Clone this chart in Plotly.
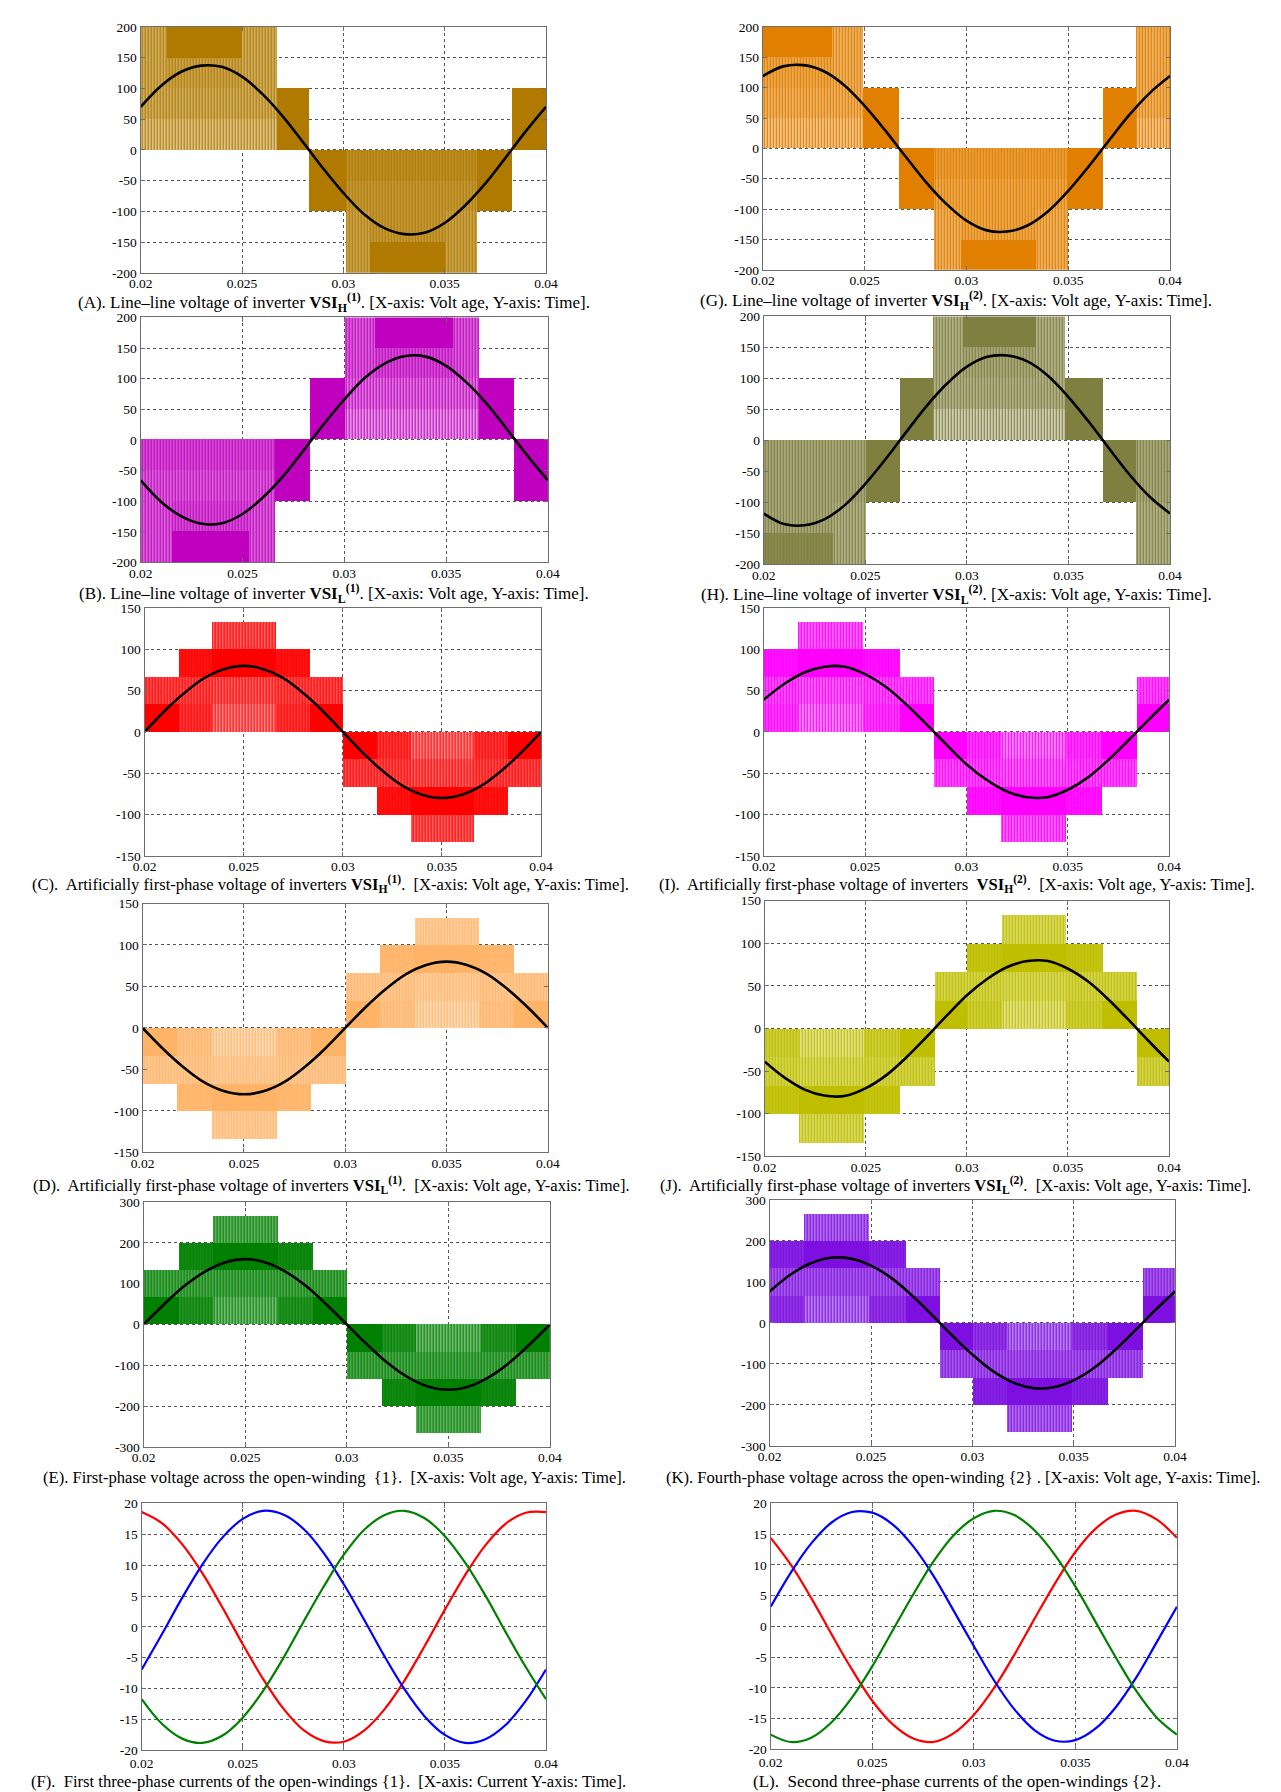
import plotly.graph_objects as go

# ---------------- data ----------------
T = [0.020, 0.021, 0.022, 0.023, 0.024, 0.025, 0.026, 0.027, 0.028, 0.029, 0.030,
     0.031, 0.032, 0.033, 0.034, 0.035, 0.036, 0.037, 0.038, 0.039, 0.040]

X_TICKS = [0.02, 0.025, 0.03, 0.035, 0.04]
X_TICK_TEXT = ["0.02", "0.025", "0.03", "0.035", "0.04"]
Y_TICKS_200 = [-200, -150, -100, -50, 0, 50, 100, 150, 200]
Y_TICKS_150 = [-150, -100, -50, 0, 50, 100, 150]
Y_TICKS_300 = [-300, -200, -100, 0, 100, 200, 300]
Y_TICKS_20 = [-20, -15, -10, -5, 0, 5, 10, 15, 20]

# fundamental (black) curves
A_FUND = [70, 104, 127, 137, 135, 119, 91, 55, 13, -30, -70, -104, -127, -137, -135, -119, -91, -55, -13, 30, 70]
B_FUND = [-66, -101, -125, -137, -136, -121, -94, -59, -17, 26, 66, 101, 125, 137, 136, 121, 94, 59, 17, -26, -66]
C_FUND = [0, 25, 47, 65, 76, 80, 76, 65, 47, 25, 0, -25, -47, -65, -76, -80, -76, -65, -47, -25, 0]
D_FUND = [0, -25, -47, -65, -76, -80, -76, -65, -47, -25, 0, 25, 47, 65, 76, 80, 76, 65, 47, 25, 0]
E_FUND = [0, 49, 94, 129, 152, 160, 152, 129, 94, 49, 0, -49, -94, -129, -152, -160, -152, -129, -94, -49, 0]
G_FUND = [119, 135, 137, 127, 104, 70, 30, -13, -55, -91, -119, -135, -137, -127, -104, -70, -30, 13, 55, 91, 119]
H_FUND = [-118, -135, -137, -127, -104, -70, -30, 13, 55, 91, 119, 135, 137, 127, 104, 70, 30, -13, -55, -91, -118]
I_FUND = [39, 58, 72, 79, 79, 70, 55, 34, 10, -15, -39, -58, -72, -79, -79, -70, -55, -34, -10, 15, 39]
J_FUND = [-39, -58, -72, -79, -79, -70, -55, -34, -10, 15, 39, 58, 72, 79, 79, 70, 55, 34, 10, -15, -39]
K_FUND = [77, 117, 145, 159, 157, 140, 110, 68, 20, -30, -77, -117, -145, -159, -157, -140, -110, -68, -20, 30, 77]

# three-phase currents
F_RED = [18.6, 16.8, 13.4, 8.7, 3.1, -2.8, -8.4, -13.2, -16.7, -18.5, -18.6, -16.8, -13.4, -8.7, -3.1, 2.8, 8.4, 13.2, 16.7, 18.5, 18.6]
F_BLUE = [-6.9, -1.2, 4.7, 10.1, 14.5, 17.5, 18.8, 18.2, 15.9, 12.0, 6.9, 1.2, -4.7, -10.1, -14.5, -17.5, -18.8, -18.2, -15.9, -12.0, -6.9]
F_GREEN = [-11.7, -15.7, -18.1, -18.8, -17.6, -14.7, -10.4, -5.1, 0.8, 6.5, 11.7, 15.7, 18.1, 18.8, 17.6, 14.7, 10.4, 5.1, -0.8, -6.5, -11.7]
L_RED = [14.4, 10.0, 4.6, -1.3, -7.0, -12.1, -15.9, -18.2, -18.8, -17.4, -14.4, -10.0, -4.6, 1.3, 7.0, 12.1, 15.9, 18.2, 18.8, 17.4, 14.4]
L_BLUE = [3.2, 8.8, 13.5, 16.9, 18.6, 18.5, 16.6, 13.1, 8.3, 2.6, -3.2, -8.8, -13.5, -16.9, -18.6, -18.5, -16.6, -13.1, -8.3, -2.6, 3.2]
L_GREEN = [-17.6, -18.8, -18.1, -15.6, -11.6, -6.5, -0.7, 5.1, 10.5, 14.8, 17.6, 18.8, 18.1, 15.6, 11.6, 6.5, 0.7, -5.1, -10.5, -14.8, -17.6]

# PWM level bands: (t_start, t_end, low, high, fill fraction; 1 = solid)
A_BANDS = [
    (0.0200, 0.0213, 100, 200, 0.75), (0.0213, 0.0250, 150, 200, 1.0), (0.0213, 0.0250, 100, 150, 0.8),
    (0.0250, 0.0267, 100, 200, 0.75), (0.0200, 0.0267, 50, 100, 0.75), (0.0200, 0.0267, 0, 50, 0.65),
    (0.0267, 0.0283, 0, 100, 1.0), (0.0283, 0.0301, -100, 0, 1.0),
    (0.0301, 0.0313, -200, -100, 0.8), (0.0313, 0.0350, -200, -150, 1.0), (0.0313, 0.0350, -150, -100, 0.85),
    (0.0350, 0.0366, -200, -100, 0.8), (0.0301, 0.0366, -100, -50, 0.85), (0.0301, 0.0366, -50, 0, 0.9),
    (0.0366, 0.0383, -100, 0, 1.0), (0.0383, 0.0400, 0, 100, 1.0),
]
B_BANDS = [
    (0.0200, 0.0215, -200, -100, 0.75), (0.0215, 0.0253, -200, -150, 1.0), (0.0215, 0.0253, -150, -100, 0.8),
    (0.0253, 0.0266, -200, -100, 0.75), (0.0200, 0.0266, -100, -50, 0.75), (0.0200, 0.0266, -50, 0, 0.8),
    (0.0266, 0.0283, -100, 0, 1.0), (0.0283, 0.0300, 0, 100, 1.0),
    (0.0300, 0.0315, 100, 200, 0.75), (0.0315, 0.0353, 150, 200, 1.0), (0.0315, 0.0353, 100, 150, 0.8),
    (0.0353, 0.0366, 100, 200, 0.75), (0.0300, 0.0366, 50, 100, 0.7), (0.0300, 0.0366, 0, 50, 0.6),
    (0.0366, 0.0383, 0, 100, 1.0), (0.0383, 0.0400, -100, 0, 1.0),
]
G_BANDS = [
    (0.0200, 0.0234, 150, 200, 1.0), (0.0200, 0.0234, 100, 150, 0.8), (0.0234, 0.0249, 100, 200, 0.75),
    (0.0200, 0.0249, 50, 100, 0.75), (0.0200, 0.0249, 0, 50, 0.65), (0.0249, 0.0267, 0, 100, 1.0),
    (0.0267, 0.0284, -100, 0, 1.0), (0.0284, 0.0297, -200, -100, 0.75),
    (0.0297, 0.0334, -200, -150, 1.0), (0.0297, 0.0334, -150, -100, 0.8), (0.0334, 0.0350, -200, -100, 0.75),
    (0.0284, 0.0350, -100, -50, 0.8), (0.0284, 0.0350, -50, 0, 0.85), (0.0350, 0.0367, -100, 0, 1.0),
    (0.0367, 0.0383, 0, 100, 1.0), (0.0383, 0.0400, 100, 200, 0.75), (0.0383, 0.0400, 50, 100, 0.75),
    (0.0383, 0.0400, 0, 50, 0.65),
]
H_BANDS = [
    (0.0200, 0.0234, -200, -150, 0.95), (0.0200, 0.0234, -150, -100, 0.8), (0.0234, 0.0250, -200, -100, 0.75),
    (0.0200, 0.0250, -100, -50, 0.8), (0.0200, 0.0250, -50, 0, 0.8), (0.0250, 0.0267, -100, 0, 1.0),
    (0.0267, 0.0283, 0, 100, 1.0), (0.0283, 0.0298, 100, 200, 0.75),
    (0.0298, 0.0334, 150, 200, 1.0), (0.0298, 0.0334, 100, 150, 0.8), (0.0334, 0.0348, 100, 200, 0.75),
    (0.0283, 0.0348, 50, 100, 0.75), (0.0283, 0.0348, 0, 50, 0.6), (0.0348, 0.0367, 0, 100, 1.0),
    (0.0367, 0.0383, -100, 0, 1.0), (0.0383, 0.0400, -200, -100, 0.75), (0.0383, 0.0400, -100, 0, 0.8),
]
C_BANDS = [
    (0.0200, 0.0217, 0, 33.3, 1.0), (0.0200, 0.0217, 33.3, 66.7, 0.8),
    (0.0217, 0.0234, 0, 33.3, 0.85), (0.0217, 0.0234, 33.3, 66.7, 0.8), (0.0217, 0.0234, 66.7, 100, 0.95),
    (0.0234, 0.0266, 0, 33.3, 0.65), (0.0234, 0.0266, 33.3, 66.7, 0.75), (0.0234, 0.0266, 66.7, 100, 1.0),
    (0.0234, 0.0266, 100, 133.3, 0.75),
    (0.0266, 0.0283, 0, 33.3, 0.85), (0.0266, 0.0283, 33.3, 66.7, 0.8), (0.0266, 0.0283, 66.7, 100, 0.95),
    (0.0283, 0.0300, 0, 33.3, 1.0), (0.0283, 0.0300, 33.3, 66.7, 0.8),
    (0.0300, 0.0317, -33.3, 0, 1.0), (0.0300, 0.0317, -66.7, -33.3, 0.8),
    (0.0317, 0.0334, -33.3, 0, 0.85), (0.0317, 0.0334, -66.7, -33.3, 0.8), (0.0317, 0.0334, -100, -66.7, 0.95),
    (0.0334, 0.0366, -33.3, 0, 0.65), (0.0334, 0.0366, -66.7, -33.3, 0.75), (0.0334, 0.0366, -100, -66.7, 1.0),
    (0.0334, 0.0366, -133.3, -100, 0.75),
    (0.0366, 0.0383, -33.3, 0, 0.85), (0.0366, 0.0383, -66.7, -33.3, 0.8), (0.0366, 0.0383, -100, -66.7, 0.95),
    (0.0383, 0.0400, -33.3, 0, 1.0), (0.0383, 0.0400, -66.7, -33.3, 0.8),
]
D_BANDS = [
    (0.0200, 0.0217, -33.3, 0, 1.0), (0.0200, 0.0217, -66.7, -33.3, 0.8),
    (0.0217, 0.0234, -33.3, 0, 0.85), (0.0217, 0.0234, -66.7, -33.3, 0.8), (0.0217, 0.0234, -100, -66.7, 0.95),
    (0.0234, 0.0266, -33.3, 0, 0.65), (0.0234, 0.0266, -66.7, -33.3, 0.75), (0.0234, 0.0266, -100, -66.7, 1.0),
    (0.0234, 0.0266, -133.3, -100, 0.75),
    (0.0266, 0.0283, -33.3, 0, 0.85), (0.0266, 0.0283, -66.7, -33.3, 0.8), (0.0266, 0.0283, -100, -66.7, 0.95),
    (0.0283, 0.0300, -33.3, 0, 1.0), (0.0283, 0.0300, -66.7, -33.3, 0.8),
    (0.0300, 0.0317, 0, 33.3, 1.0), (0.0300, 0.0317, 33.3, 66.7, 0.8),
    (0.0317, 0.0334, 0, 33.3, 0.85), (0.0317, 0.0334, 33.3, 66.7, 0.8), (0.0317, 0.0334, 66.7, 100, 0.95),
    (0.0334, 0.0366, 0, 33.3, 0.65), (0.0334, 0.0366, 33.3, 66.7, 0.75), (0.0334, 0.0366, 66.7, 100, 1.0),
    (0.0334, 0.0366, 100, 133.3, 0.75),
    (0.0366, 0.0383, 0, 33.3, 0.85), (0.0366, 0.0383, 33.3, 66.7, 0.8), (0.0366, 0.0383, 66.7, 100, 0.95),
    (0.0383, 0.0400, 0, 33.3, 1.0), (0.0383, 0.0400, 33.3, 66.7, 0.8),
]
I_BANDS = [
    (0.0200, 0.0217, 0, 33.3, 0.85), (0.0200, 0.0217, 33.3, 66.7, 0.8), (0.0200, 0.0217, 66.7, 100, 0.95),
    (0.0217, 0.0249, 0, 33.3, 0.65), (0.0217, 0.0249, 33.3, 66.7, 0.75), (0.0217, 0.0249, 66.7, 100, 1.0),
    (0.0217, 0.0249, 100, 133.3, 0.75),
    (0.0249, 0.0267, 0, 33.3, 0.85), (0.0249, 0.0267, 33.3, 66.7, 0.8), (0.0249, 0.0267, 66.7, 100, 0.95),
    (0.0267, 0.0284, 0, 33.3, 1.0), (0.0267, 0.0284, 33.3, 66.7, 0.8),
    (0.0284, 0.0300, -33.3, 0, 1.0), (0.0284, 0.0300, -66.7, -33.3, 0.8),
    (0.0300, 0.0317, -33.3, 0, 0.85), (0.0300, 0.0317, -66.7, -33.3, 0.8), (0.0300, 0.0317, -100, -66.7, 0.95),
    (0.0317, 0.0349, -33.3, 0, 0.65), (0.0317, 0.0349, -66.7, -33.3, 0.75), (0.0317, 0.0349, -100, -66.7, 1.0),
    (0.0317, 0.0349, -133.3, -100, 0.75),
    (0.0349, 0.0367, -33.3, 0, 0.85), (0.0349, 0.0367, -66.7, -33.3, 0.8), (0.0349, 0.0367, -100, -66.7, 0.95),
    (0.0367, 0.0384, -33.3, 0, 1.0), (0.0367, 0.0384, -66.7, -33.3, 0.8),
    (0.0384, 0.0400, 0, 33.3, 1.0), (0.0384, 0.0400, 33.3, 66.7, 0.8),
]
J_BANDS = [
    (0.0200, 0.0217, -33.3, 0, 0.85), (0.0200, 0.0217, -66.7, -33.3, 0.8), (0.0200, 0.0217, -100, -66.7, 0.95),
    (0.0217, 0.0249, -33.3, 0, 0.65), (0.0217, 0.0249, -66.7, -33.3, 0.75), (0.0217, 0.0249, -100, -66.7, 1.0),
    (0.0217, 0.0249, -133.3, -100, 0.75),
    (0.0249, 0.0267, -33.3, 0, 0.85), (0.0249, 0.0267, -66.7, -33.3, 0.8), (0.0249, 0.0267, -100, -66.7, 0.95),
    (0.0267, 0.0284, -33.3, 0, 1.0), (0.0267, 0.0284, -66.7, -33.3, 0.8),
    (0.0284, 0.0300, 0, 33.3, 1.0), (0.0284, 0.0300, 33.3, 66.7, 0.8),
    (0.0300, 0.0317, 0, 33.3, 0.85), (0.0300, 0.0317, 33.3, 66.7, 0.8), (0.0300, 0.0317, 66.7, 100, 0.95),
    (0.0317, 0.0349, 0, 33.3, 0.65), (0.0317, 0.0349, 33.3, 66.7, 0.75), (0.0317, 0.0349, 66.7, 100, 1.0),
    (0.0317, 0.0349, 100, 133.3, 0.75),
    (0.0349, 0.0367, 0, 33.3, 0.85), (0.0349, 0.0367, 33.3, 66.7, 0.8), (0.0349, 0.0367, 66.7, 100, 0.95),
    (0.0367, 0.0384, 0, 33.3, 1.0), (0.0367, 0.0384, 33.3, 66.7, 0.8),
    (0.0384, 0.0400, -33.3, 0, 1.0), (0.0384, 0.0400, -66.7, -33.3, 0.8),
]
E_BANDS = [
    (0.0200, 0.0217, 0, 66.7, 1.0), (0.0200, 0.0217, 66.7, 133.3, 0.8),
    (0.0217, 0.0234, 0, 66.7, 0.9), (0.0217, 0.0234, 66.7, 133.3, 0.8), (0.0217, 0.0234, 133.3, 200, 0.95),
    (0.0234, 0.0266, 0, 66.7, 0.7), (0.0234, 0.0266, 66.7, 133.3, 0.8), (0.0234, 0.0266, 133.3, 200, 1.0),
    (0.0234, 0.0266, 200, 266.7, 0.75),
    (0.0266, 0.0283, 0, 66.7, 0.9), (0.0266, 0.0283, 66.7, 133.3, 0.8), (0.0266, 0.0283, 133.3, 200, 0.95),
    (0.0283, 0.0300, 0, 66.7, 1.0), (0.0283, 0.0300, 66.7, 133.3, 0.8),
    (0.0300, 0.0317, -66.7, 0, 1.0), (0.0300, 0.0317, -133.3, -66.7, 0.8),
    (0.0317, 0.0334, -66.7, 0, 0.9), (0.0317, 0.0334, -133.3, -66.7, 0.8), (0.0317, 0.0334, -200, -133.3, 0.95),
    (0.0334, 0.0366, -66.7, 0, 0.7), (0.0334, 0.0366, -133.3, -66.7, 0.8), (0.0334, 0.0366, -200, -133.3, 1.0),
    (0.0334, 0.0366, -266.7, -200, 0.75),
    (0.0366, 0.0383, -66.7, 0, 0.9), (0.0366, 0.0383, -133.3, -66.7, 0.8), (0.0366, 0.0383, -200, -133.3, 0.95),
    (0.0383, 0.0400, -66.7, 0, 1.0), (0.0383, 0.0400, -133.3, -66.7, 0.8),
]
K_BANDS = [
    (0.0200, 0.0217, 0, 66.7, 0.9), (0.0200, 0.0217, 66.7, 133.3, 0.8), (0.0200, 0.0217, 133.3, 200, 0.95),
    (0.0217, 0.0249, 0, 66.7, 0.7), (0.0217, 0.0249, 66.7, 133.3, 0.8), (0.0217, 0.0249, 133.3, 200, 1.0),
    (0.0217, 0.0249, 200, 266.7, 0.75),
    (0.0249, 0.0267, 0, 66.7, 0.9), (0.0249, 0.0267, 66.7, 133.3, 0.8), (0.0249, 0.0267, 133.3, 200, 0.95),
    (0.0267, 0.0284, 0, 66.7, 1.0), (0.0267, 0.0284, 66.7, 133.3, 0.8),
    (0.0284, 0.0300, -66.7, 0, 1.0), (0.0284, 0.0300, -133.3, -66.7, 0.8),
    (0.0300, 0.0317, -66.7, 0, 0.9), (0.0300, 0.0317, -133.3, -66.7, 0.8), (0.0300, 0.0317, -200, -133.3, 0.95),
    (0.0317, 0.0349, -66.7, 0, 0.7), (0.0317, 0.0349, -133.3, -66.7, 0.8), (0.0317, 0.0349, -200, -133.3, 1.0),
    (0.0317, 0.0349, -266.7, -200, 0.75),
    (0.0349, 0.0367, -66.7, 0, 0.9), (0.0349, 0.0367, -133.3, -66.7, 0.8), (0.0349, 0.0367, -200, -133.3, 0.95),
    (0.0367, 0.0384, -66.7, 0, 1.0), (0.0367, 0.0384, -133.3, -66.7, 0.8),
    (0.0384, 0.0400, 0, 66.7, 1.0), (0.0384, 0.0400, 66.7, 133.3, 0.8),
]

CAPTIONS = {
    "A": "(A). Line\u2013line voltage of inverter <b>VSI<sub>H</sub><sup>(1)</sup></b>. [X-axis: Volt age, Y-axis: Time].",
    "B": "(B). Line\u2013line voltage of inverter <b>VSI<sub>L</sub><sup>(1)</sup></b>. [X-axis: Volt age, Y-axis: Time].",
    "C": "(C).\u00a0 Artificially first-phase voltage of inverters <b>VSI<sub>H</sub><sup>(1)</sup></b>.\u00a0 [X-axis: Volt age, Y-axis: Time].",
    "D": "(D).\u00a0 Artificially first-phase voltage of inverters <b>VSI<sub>L</sub><sup>(1)</sup></b>.\u00a0 [X-axis: Volt age, Y-axis: Time].",
    "E": "(E). First-phase voltage across the open-winding\u00a0 {1}.\u00a0 [X-axis: Volt age, Y-axis: Time].",
    "F": "(F).\u00a0 First three-phase currents of the open-windings {1}.\u00a0 [X-axis: Current Y-axis: Time].",
    "G": "(G). Line\u2013line voltage of inverter <b>VSI<sub>H</sub><sup>(2)</sup></b>. [X-axis: Volt age, Y-axis: Time].",
    "H": "(H). Line\u2013line voltage of inverter <b>VSI<sub>L</sub><sup>(2)</sup></b>. [X-axis: Volt age, Y-axis: Time].",
    "I": "(I).\u00a0 Artificially first-phase voltage of inverters\u00a0 <b>VSI<sub>H</sub><sup>(2)</sup></b>.\u00a0 [X-axis: Volt age, Y-axis: Time].",
    "J": "(J).\u00a0 Artificially first-phase voltage of inverters <b>VSI<sub>L</sub><sup>(2)</sup></b>.\u00a0 [X-axis: Volt age, Y-axis: Time].",
    "K": "(K). Fourth-phase voltage across the open-winding {2} . [X-axis: Volt age, Y-axis: Time].",
    "L": "(L).\u00a0 Second three-phase currents of the open-windings {2}.",
}

# ---------------- layout config (pixels) ----------------
W, H = 1281, 1792
FONT = "Liberation Serif, Times New Roman, serif"

PANELS = [
    # key, bands, fundamental, colour, y ticks, box (x0,x1,y0,y1), caption centre (x,y), caption size, x-label standoff
    ("A", A_BANDS, A_FUND, "#B07A00", Y_TICKS_200, (123, 536, 12, 260), (320, 289.5), 17, -2),
    ("B", B_BANDS, B_FUND, "#BF00BF", Y_TICKS_200, (123, 538, 305, 552), (320, 583.5), 17, -2),
    ("C", C_BANDS, C_FUND, "#FF0000", Y_TICKS_150, (127, 531, 598, 848), (316, 877), 16.6, -2),
    ("D", D_BANDS, D_FUND, "#FFB366", Y_TICKS_150, (125, 538, 896, 1147), (317, 1180), 16.6, -2),
    ("E", E_BANDS, E_FUND, "#008000", Y_TICKS_300, (126, 540, 1197, 1444), (320, 1475), 16.6, -2),
    ("F", None, None, None, Y_TICKS_20, (124, 536, 1501, 1750), (314, 1781), 16.6, 0),
    ("G", G_BANDS, G_FUND, "#E07F00", Y_TICKS_200, (757, 1172, 12, 257), (954, 288), 17, -2),
    ("H", H_BANDS, H_FUND, "#7F7F40", Y_TICKS_200, (758, 1172, 304, 554), (954, 584), 17, -2),
    ("I", I_BANDS, I_FUND, "#FF00FF", Y_TICKS_150, (758, 1171, 598, 848), (955, 877), 16.6, -2),
    ("J", J_BANDS, J_FUND, "#BFBF00", Y_TICKS_150, (759, 1171, 893, 1151), (953, 1180), 16.6, -2),
    ("K", K_BANDS, K_FUND, "#7D10E0", Y_TICKS_300, (764, 1177, 1195, 1443), (961, 1475), 16.6, -2),
    ("L", None, None, None, Y_TICKS_20, (765, 1179, 1501, 1749), (955, 1781), 17, 0),
]

CURRENTS = {
    "F": [(F_RED, "#FF0000"), (F_BLUE, "#0000FF"), (F_GREEN, "#008000")],
    "L": [(L_RED, "#FF0000"), (L_BLUE, "#0000FF"), (L_GREEN, "#008000")],
}

fig = go.Figure()
layout = dict(
    width=W, height=H, margin=dict(l=0, r=0, t=0, b=0),
    paper_bgcolor="white", plot_bgcolor="white", showlegend=False,
    barmode="overlay", bargap=0, annotations=[],
)

for i, (key, bands, fund, color, yticks, box, cap, capsize, xstand) in enumerate(PANELS):
    n = "" if i == 0 else str(i + 1)
    xa, ya = "x" + n, "y" + n
    x0, x1, y0, y1 = box

    if bands is not None:
        fills = [b[4] for b in bands]
        fig.add_trace(go.Bar(
            x=[(b[0] + b[1]) / 2 for b in bands],
            width=[b[1] - b[0] for b in bands],
            base=[b[2] for b in bands],
            y=[b[3] - b[2] for b in bands],
            marker=dict(
                color=color, line=dict(width=0),
                pattern=dict(
                    shape=["" if f >= 1 else "|" for f in fills],
                    solidity=[min(f, 0.99) for f in fills],
                    fgcolor=color, bgcolor="white", size=3, fillmode="replace",
                ),
            ),
            xaxis=xa, yaxis=ya, hoverinfo="skip",
        ))
        fig.add_trace(go.Scatter(
            x=T, y=fund, mode="lines", line=dict(color="black", width=2.6, shape="spline"),
            xaxis=xa, yaxis=ya, hoverinfo="skip",
        ))
    else:
        for vals, c in CURRENTS[key]:
            fig.add_trace(go.Scatter(
                x=T, y=vals, mode="lines", line=dict(color=c, width=2.2, shape="spline"),
                xaxis=xa, yaxis=ya, hoverinfo="skip",
            ))

    axis_common = dict(
        showline=True, mirror="ticks", linecolor="#6e6e6e", linewidth=1.3,
        ticks="inside", ticklen=4, tickcolor="#6e6e6e",
        showgrid=True, gridcolor="#555555", griddash="dot", gridwidth=1,
        zeroline=False, tickfont=dict(family=FONT, size=13.5, color="black"),
        fixedrange=True,
    )
    layout["xaxis" + n] = dict(
        axis_common, domain=[x0 / W, x1 / W], anchor=ya, range=[0.02, 0.04],
        tickmode="array", tickvals=X_TICKS, ticktext=X_TICK_TEXT, ticklabelstandoff=xstand,
    )
    layout["yaxis" + n] = dict(
        axis_common, domain=[1 - y1 / H, 1 - y0 / H], anchor=xa,
        range=[yticks[0], yticks[-1]], tickmode="array", tickvals=yticks,
        ticktext=[str(v) for v in yticks],
    )
    layout["annotations"].append(dict(
        text=CAPTIONS[key], xref="paper", yref="paper",
        x=cap[0] / W, y=1 - cap[1] / H, xanchor="center", yanchor="middle",
        showarrow=False, font=dict(family=FONT, size=capsize, color="black"),
    ))

fig.update_layout(**layout)
fig.write_html("out.html")
